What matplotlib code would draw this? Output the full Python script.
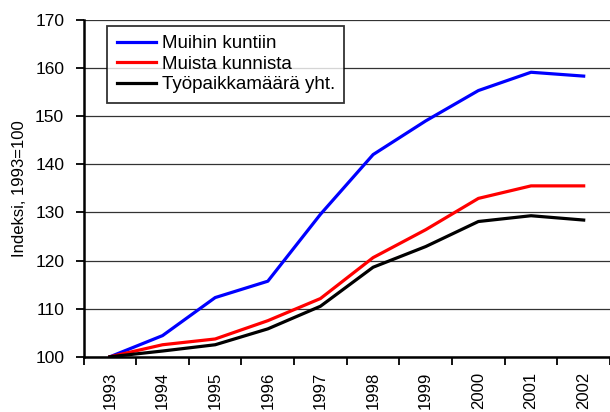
import matplotlib.pyplot as plt
import numpy as np

plt.rcParams['font.family'] = ['Liberation Sans', 'DejaVu Sans']

years = ["1993", "1994", "1995", "1996", "1997", "1998", "1999", "2000", "2001", "2002"]
muihin = [100, 104.4, 112.3, 115.7, 129.6, 142.0, 149.0, 155.3, 159.1, 158.3]
muista = [100, 102.5, 103.7, 107.5, 112.1, 120.6, 126.4, 132.9, 135.5, 135.5]
yhteensa = [100, 101.2, 102.5, 105.8, 110.5, 118.6, 122.9, 128.1, 129.3, 128.4]

fig = plt.figure(figsize=(6.10, 4.12), dpi=100)
ax = fig.add_axes([0.137, 0.134, 0.863, 0.818])

x = np.arange(len(years))
ax.plot(x, muihin, color="#0000ff", lw=2.3, label="Muihin kuntiin")
ax.plot(x, muista, color="#ff0000", lw=2.3, label="Muista kunnista")
ax.plot(x, yhteensa, color="#000000", lw=2.3, label="Työpaikkamäärä yht.")

ax.set_xlim(-0.5, len(years) - 0.5)
ax.set_ylim(100, 170)
ax.set_yticks(range(100, 171, 10))
ax.yaxis.grid(True, color="#333333", lw=0.9)
ax.set_axisbelow(True)

ax.set_xticks(x)
ax.set_xticklabels(years, rotation=90, fontsize=12)
ax.set_xticks(np.arange(-0.5, len(years)), minor=True)
ax.tick_params(axis="x", which="major", length=0, pad=11)
ax.tick_params(axis="x", which="minor", length=6, width=1.3, direction="out")
ax.tick_params(axis="y", length=6, width=1.3, labelsize=12.5, pad=8)

for s in ["top", "right"]:
    ax.spines[s].set_visible(False)
ax.spines["left"].set_linewidth(1.8)
ax.spines["bottom"].set_linewidth(1.8)

ax.set_ylabel("Indeksi, 1993=100", fontsize=12, labelpad=6)

leg = ax.legend(loc="upper left", bbox_to_anchor=(0.045, 0.982), fontsize=13.5,
                frameon=True, fancybox=False, edgecolor="black", handlelength=2.1,
                borderpad=0.5, labelspacing=0.18, handletextpad=0.3, borderaxespad=0)
leg.get_frame().set_linewidth(1.3)

fig.savefig("out.png", dpi=100)
